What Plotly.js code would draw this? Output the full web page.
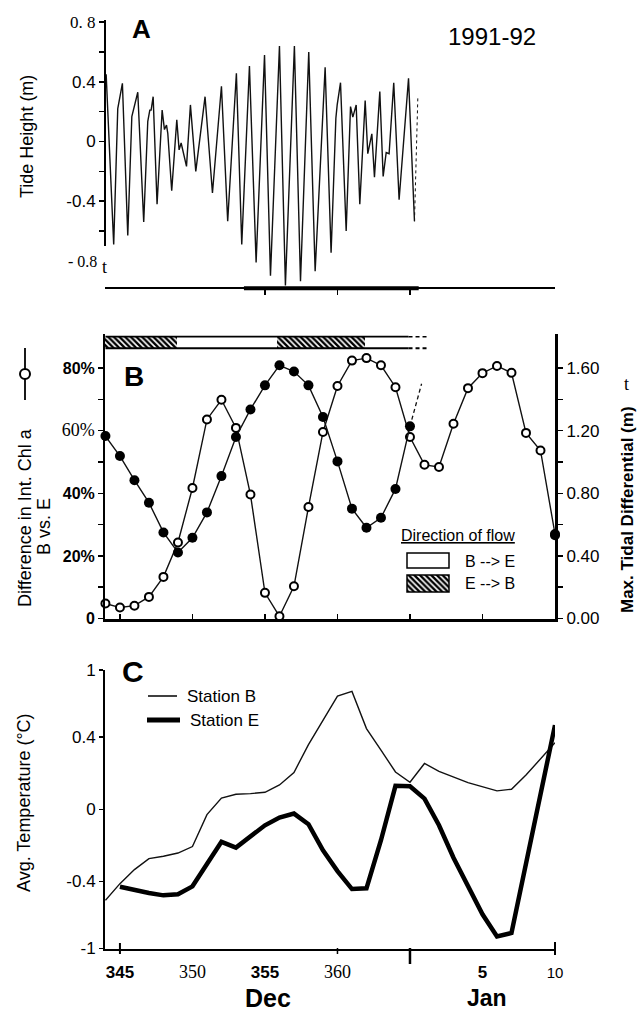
<!DOCTYPE html>
<html><head><meta charset="utf-8">
<script src="https://cdn.plot.ly/plotly-3.0.1.min.js"></script>
<style>html,body{margin:0;padding:0;background:#fff}#chart{width:638px;height:1011px}</style>
</head><body><div id="chart"></div>
<script>
// ---------------- DATA ----------------
// Panel A: tide height (m) vs day of year
const tideDay = [344.05,344.57,344.85,345.17,345.54,345.82,346.23,346.64,346.92,347.06,347.15,347.29,347.56,347.91,348.07,348.21,348.30,348.57,348.92,349.08,349.22,349.36,349.59,349.86,350.23,350.87,351.38,352.0,352.43,353.03,353.40,353.93,354.39,354.97,355.38,356.0,356.41,357.03,357.45,358.02,358.46,359.15,359.56,359.89,359.98,360.21,360.6,360.9,361.06,361.29,361.54,361.91,362.09,362.37,362.55,362.92,363.15,363.36,363.56,363.88,364.25,364.9,365.31];
const tideHeight = [0.45,-0.69,0.22,0.39,-0.63,0.167,0.33,-0.54,0.135,0.21,0.21,0.30,-0.42,0.21,0.08,0.11,0.055,-0.33,0.145,-0.056,-0.01,-0.078,-0.167,0.245,-0.20,0.30,-0.345,0.37,-0.535,0.457,-0.69,0.506,-0.81,0.58,-0.90,0.64,-0.965,0.64,-0.936,0.60,-0.87,0.497,-0.746,0.156,0.245,0.394,-0.60,0.234,0.163,0.245,-0.42,0.274,-0.082,0.051,-0.24,0.334,-0.234,-0.074,-0.082,0.394,-0.39,0.423,-0.535];
const tideDotDay = [365.31, 365.54];
const tideDotHeight = [-0.535, 0.29];

// Panel B: difference in integrated Chl a (%), open circles
const chlDay = [344,345,346,347,348,349,350,351,352,353,354,355,356,357,358,359,360,361,362,363,364,365,366,367,368,369,370,371,372,373,374,375];
const chlDiff = [4.8,3.5,4.1,6.9,13.3,24.3,41.7,63.6,69.9,60.9,39.6,8.2,0.7,10.3,35.6,59.6,74.3,82.4,83.2,80.9,73.9,58.0,49.1,48.4,62.2,73.6,78.4,80.7,78.5,59.3,53.7,27.0];
// Panel B: max tidal differential (m), filled circles (gap = no data)
const tidalDay = [344,345,346,347,348,349,350,351,352,353,354,355,356,357,358,359,360,361,362,363,364,365,370,375];
const tidalDiff = [1.166,1.038,0.884,0.74,0.55,0.422,0.516,0.678,0.91,1.16,1.336,1.49,1.618,1.578,1.49,1.288,1.004,0.702,0.58,0.644,0.828,1.228,null,0.532];
const tidalExtDay = [365, 365.8];
const tidalExt = [1.228, 1.50];
// Panel B: direction of flow periods
const flowStart = [344.0, 348.9, 355.8, 361.9];
const flowEnd   = [348.9, 355.8, 361.9, 364.9];
const flowDir   = ["E -> B", "B -> E", "E -> B", "B -> E"];
const flowDashEnd = 366.3;

// Panel C: average temperature (°C)
const tempDayB = [344,345,346,347,348,349,350,351,352,353,354,355,356,357,358,359,360,361,362,363,364,365,366,367,369,371,372,373,375];
const stationB = [-0.506,-0.413,-0.335,-0.274,-0.261,-0.243,-0.207,-0.03,0.062,0.083,0.087,0.094,0.135,0.204,0.359,0.494,0.628,0.654,0.448,0.328,0.207,0.150,0.254,0.21,0.148,0.102,0.111,0.19,0.369];
const tempDayE = [345,346,347,348,349,350,351,352,353,354,355,356,357,358,359,360,361,362,363,364,365,366,367,368,369,370,371,372,375];
const stationE = [-0.43,-0.45,-0.465,-0.478,-0.472,-0.428,-0.306,-0.181,-0.213,-0.154,-0.089,-0.046,-0.024,-0.083,-0.228,-0.343,-0.443,-0.439,-0.172,0.13,0.128,0.059,-0.089,-0.269,-0.431,-0.583,-0.706,-0.687,0.467];

// tick labels
const SERIF = "Liberation Serif, Times New Roman, serif";
const SANS = "Liberation Sans, Arial, sans-serif";
const tideTickVals = [0.8,0.6,0.4,0.2,0,-0.2,-0.4,-0.6];
const tideTickText = ['<span style="font-family:Liberation Serif">0. 8</span>','','0.4','','0','','-0.4',''];
const chlTickVals = [0,10,20,30,40,50,60,70,80];
const chlTickText = ['<b>0</b>','','<b>20%</b>','','<b>40%</b>','','<span style="font-family:Liberation Serif;font-size:18px">60%</span>','','<b>80%</b>'];
const tidTickVals = [0,0.2,0.4,0.6,0.8,1.0,1.2,1.4,1.6];
const tidTickText = ['0.00','','0.40','','0.80','','1.20','','1.60'];
const tempTickVals = [-0.773,-0.4,0,0.4,0.773];
const tempTickText = ['-1','-0.4','0','0.4','1'];
const dayTickVals = [345,350,355,360,370,375];
const dayTickText = ['<b>345</b>','<span style="font-family:Liberation Serif;font-size:18px">350</span>','<b>355</b>','<span style="font-family:Liberation Serif;font-size:18px">360</span>','<b>5</b>','<span style="font-family:Liberation Sans;font-size:15px">10</span>'];

// ---------------- LAYOUT HELPERS ----------------
const W = 638, H = 1011, L = 105, R = 83, PW = W - L - R;
const X0 = 343.97, X1 = 375;
const fx = px => (px - L) / PW;
const fy = py => 1 - py / H;
const xp = d => (d - X0) / (X1 - X0);

function ann(text, px, py, o) {
  o = o || {};
  return Object.assign({
    text: text, xref: 'paper', yref: 'paper', x: fx(px), y: fy(py),
    showarrow: false, xanchor: 'center', yanchor: 'middle',
    font: {family: o.family || SANS, size: o.size || 17, color: '#000'}
  }, o.extra || {});
}

const traces = [
  // Panel A
  {x: tideDay, y: tideHeight, xaxis: 'x3', yaxis: 'y3', mode: 'lines', line: {color: '#111', width: 1.4}, hoverinfo: 'skip'},
  {x: tideDotDay, y: tideDotHeight, xaxis: 'x3', yaxis: 'y3', mode: 'lines', line: {color: '#111', width: 1, dash: 'dot'}, hoverinfo: 'skip'},
  // Panel B flow bars
  {type: 'bar', orientation: 'h', xaxis: 'x2', yaxis: 'y2',
   y: flowStart.map(() => 88.2), base: flowStart, x: flowStart.map((s, i) => flowEnd[i] - s),
   width: 3.7, text: flowDir, textposition: 'none', hoverinfo: 'skip',
   marker: {color: '#fff', line: {width: 0},
     pattern: {shape: flowDir.map(d => d === "E -> B" ? "\\" : ""), fgcolor: '#000', fgopacity: 1, bgcolor: '#fff', size: 4, solidity: 0.6}}},
  {x: [flowStart[0], flowEnd[flowEnd.length - 1]], y: [90.05, 90.05], xaxis: 'x2', yaxis: 'y2', mode: 'lines', line: {color: '#000', width: 1.6}, hoverinfo: 'skip', cliponaxis: false},
  {x: [flowStart[0], flowEnd[flowEnd.length - 1]], y: [86.35, 86.35], xaxis: 'x2', yaxis: 'y2', mode: 'lines', line: {color: '#000', width: 2.2}, hoverinfo: 'skip', cliponaxis: false},
  {x: [flowEnd[flowEnd.length - 1], flowDashEnd], y: [90.05, 90.05], xaxis: 'x2', yaxis: 'y2', mode: 'lines', line: {color: '#000', width: 1.5, dash: '4px,3px'}, hoverinfo: 'skip'},
  {x: [flowEnd[flowEnd.length - 1], flowDashEnd], y: [86.35, 86.35], xaxis: 'x2', yaxis: 'y2', mode: 'lines', line: {color: '#000', width: 1.8, dash: '4px,3px'}, hoverinfo: 'skip'},
  // Panel B series
  {x: chlDay, y: chlDiff, xaxis: 'x2', yaxis: 'y2', mode: 'lines+markers', cliponaxis: false,
   line: {color: '#111', width: 1.4},
   marker: {symbol: 'circle', size: 8, color: '#fff', line: {color: '#000', width: 2}}, hoverinfo: 'skip'},
  {x: tidalExtDay, y: tidalExt, xaxis: 'x2', yaxis: 'y4', mode: 'lines', line: {color: '#111', width: 1.3, dash: '4px,3px'}, hoverinfo: 'skip'},
  {x: tidalDay, y: tidalDiff, xaxis: 'x2', yaxis: 'y4', mode: 'lines+markers', cliponaxis: false, connectgaps: false,
   line: {color: '#111', width: 1.4},
   marker: {symbol: 'circle', size: 10, color: '#000'}, hoverinfo: 'skip'},
  // Panel C
  {x: tempDayB, y: stationB, xaxis: 'x', yaxis: 'y', mode: 'lines', name: 'Station B', line: {color: '#111', width: 1.4}, hoverinfo: 'skip'},
  {x: tempDayE, y: stationE, xaxis: 'x', yaxis: 'y', mode: 'lines', name: 'Station E', line: {color: '#000', width: 4.5}, hoverinfo: 'skip'},
  // flow legend swatches (pixel-space helper axis)
  {type: 'bar', orientation: 'h', xaxis: 'x5', yaxis: 'y5', y: [560.5, 583.5], base: [407, 407], x: [42, 42], width: [15, 17],
   hoverinfo: 'skip', textposition: 'none',
   marker: {color: '#fff', line: {color: '#000', width: 1.5},
     pattern: {shape: ['', '\\'], fgcolor: '#000', fgopacity: 1, bgcolor: '#fff', size: 4, solidity: 0.6}}}
];

const axCommon = {showgrid: false, zeroline: false, linecolor: '#000', tickcolor: '#000', fixedrange: true};

const layout = {
  width: W, height: H, margin: {l: L, r: R, t: 0, b: 0, pad: 0},
  paper_bgcolor: '#fff', plot_bgcolor: 'rgba(0,0,0,0)', showlegend: false,
  font: {family: SANS, color: '#000', size: 17},
  bargap: 0,
  // Panel C
  xaxis: Object.assign({}, axCommon, {domain: [0, 1], range: [X0, X1], anchor: 'y', showline: true, linewidth: 2.5,
    ticks: '', tickvals: dayTickVals, ticktext: dayTickText, tickfont: {size: 17, family: SANS}, ticklabelstandoff: 7}),
  yaxis: Object.assign({}, axCommon, {domain: [fy(948.5), fy(670)], range: [-0.773, 0.773], anchor: 'x', showline: true, linewidth: 2,
    ticks: 'outside', ticklen: 4, tickwidth: 1.5, tickvals: tempTickVals, ticktext: tempTickText, tickfont: {size: 17}}),
  // Panel B
  xaxis2: Object.assign({}, axCommon, {domain: [0, 1], range: [X0, X1], anchor: 'y2', showline: true, linewidth: 3,
    ticks: 'inside', ticklen: 5, tickwidth: 1.5, tickvals: [345, 350, 355, 360, 365, 370], showticklabels: false}),
  yaxis2: Object.assign({}, axCommon, {domain: [fy(618.5), fy(333.7)], range: [0, 91], anchor: 'x2', showline: true, linewidth: 2,
    ticks: 'outside', ticklen: 5, tickwidth: 1.5, tickvals: chlTickVals, ticktext: chlTickText, tickfont: {size: 16}}),
  yaxis4: Object.assign({}, axCommon, {overlaying: 'y2', side: 'right', anchor: 'x2', range: [0, 1.82], showline: true, linewidth: 3,
    ticks: 'outside', ticklen: 5, tickwidth: 1.5, tickvals: tidTickVals, ticktext: tidTickText, tickfont: {size: 17}}),
  // Panel A
  xaxis3: Object.assign({}, axCommon, {domain: [0, 1], range: [X0, X1], anchor: 'y3', showline: true, linewidth: 2,
    ticks: 'outside', ticklen: 6, tickwidth: 1.5, tickvals: [355, 360, 365], showticklabels: false}),
  yaxis3: Object.assign({}, axCommon, {domain: [fy(287), fy(20)], range: [-0.975, 0.814], anchor: 'x3', showline: false,
    ticks: 'outside', ticklen: 5, tickwidth: 1.5, tickvals: tideTickVals, ticktext: tideTickText, tickfont: {size: 17}}),
  // helper pixel-space axes for legend swatches
  xaxis5: {domain: [0, 1], range: [L, W - R], anchor: 'y5', visible: false, fixedrange: true},
  yaxis5: {domain: [0, 1], range: [H, 0], anchor: 'x5', visible: false, fixedrange: true},
  shapes: [
    // Panel A left axis line (ends above bottom)
    {type: 'line', xref: 'paper', yref: 'y3', x0: 0, x1: 0, y0: -0.70, y1: 0.814, line: {color: '#000', width: 2}},
    // Panel A thick bottom segment
    {type: 'line', xref: 'paper', yref: 'paper', x0: xp(353.55), x1: xp(365.6), y0: fy(288.3), y1: fy(288.3), line: {color: '#000', width: 4}},
    // Panel C tick marks
    {type: 'line', xref: 'paper', yref: 'paper', x0: xp(345), x1: xp(345), y0: fy(943), y1: fy(954), line: {color: '#000', width: 2}},
    {type: 'line', xref: 'paper', yref: 'paper', x0: xp(360), x1: xp(360), y0: fy(948), y1: fy(954), line: {color: '#000', width: 1.5}},
    {type: 'line', xref: 'paper', yref: 'paper', x0: xp(365), x1: xp(365), y0: fy(948), y1: fy(964), line: {color: '#000', width: 2.5}},
    {type: 'line', xref: 'paper', yref: 'paper', x0: xp(375), x1: xp(375), y0: fy(942), y1: fy(955), line: {color: '#000', width: 2}},
    // Panel B title symbol (line with open circle)
    {type: 'line', xref: 'paper', yref: 'paper', x0: fx(25), x1: fx(25), y0: fy(348), y1: fy(400), line: {color: '#000', width: 1.8}},
    {type: 'circle', xref: 'paper', yref: 'paper', x0: fx(20), x1: fx(30), y0: fy(369), y1: fy(379), fillcolor: '#fff', line: {color: '#000', width: 2}},
    // Panel C legend lines
    {type: 'line', xref: 'paper', yref: 'paper', x0: fx(148), x1: fx(177), y0: fy(696), y1: fy(696), line: {color: '#000', width: 1.5}},
    {type: 'line', xref: 'paper', yref: 'paper', x0: fx(147), x1: fx(180), y0: fy(720), y1: fy(720), line: {color: '#000', width: 5}}
  ],
  annotations: [
    ann('<b>A</b>', 141.5, 28.5, {size: 26}),
    ann('1991-92', 492, 36, {size: 24}),
    ann('<b>B</b>', 134, 376, {size: 28}),
    ann('<b>C</b>', 133, 671, {size: 30}),
    ann('t', 104, 267, {family: SERIF, size: 18}),
    ann('t', 626, 384, {family: SERIF, size: 18}),
    ann('- 0.8', 99, 261.5, {family: SERIF, size: 16, extra: {xanchor: 'right'}}),
    ann('Tide Height (m)', 27, 137, {size: 18, extra: {textangle: -90}}),
    ann('Difference in Int. Chl a', 25, 518, {size: 18, extra: {textangle: -90}}),
    ann('B vs. E', 44, 526, {size: 18, extra: {textangle: -90}}),
    ann('<b>Max. Tidal Differential (m)</b>', 627, 510, {size: 17, extra: {textangle: -90}}),
    ann('Avg. Temperature (°C)', 24, 803, {size: 18, extra: {textangle: -90}}),
    ann('<b>Dec</b>', 268, 998, {size: 25}),
    ann('<b>Jan</b>', 487, 998, {size: 23}),
    ann('<u>Direction of flow</u>', 458, 535, {size: 16}),
    ann('B --> E', 463, 561, {size: 16, extra: {xanchor: 'left'}}),
    ann('E --> B', 463, 583, {size: 16, extra: {xanchor: 'left'}}),
    ann('Station B', 185, 696, {size: 17, extra: {xanchor: 'left'}}),
    ann('Station E', 188, 720, {size: 17, extra: {xanchor: 'left'}})
  ]
};

Plotly.newPlot('chart', traces, layout, {staticPlot: true, displayModeBar: false});
</script></body></html>
